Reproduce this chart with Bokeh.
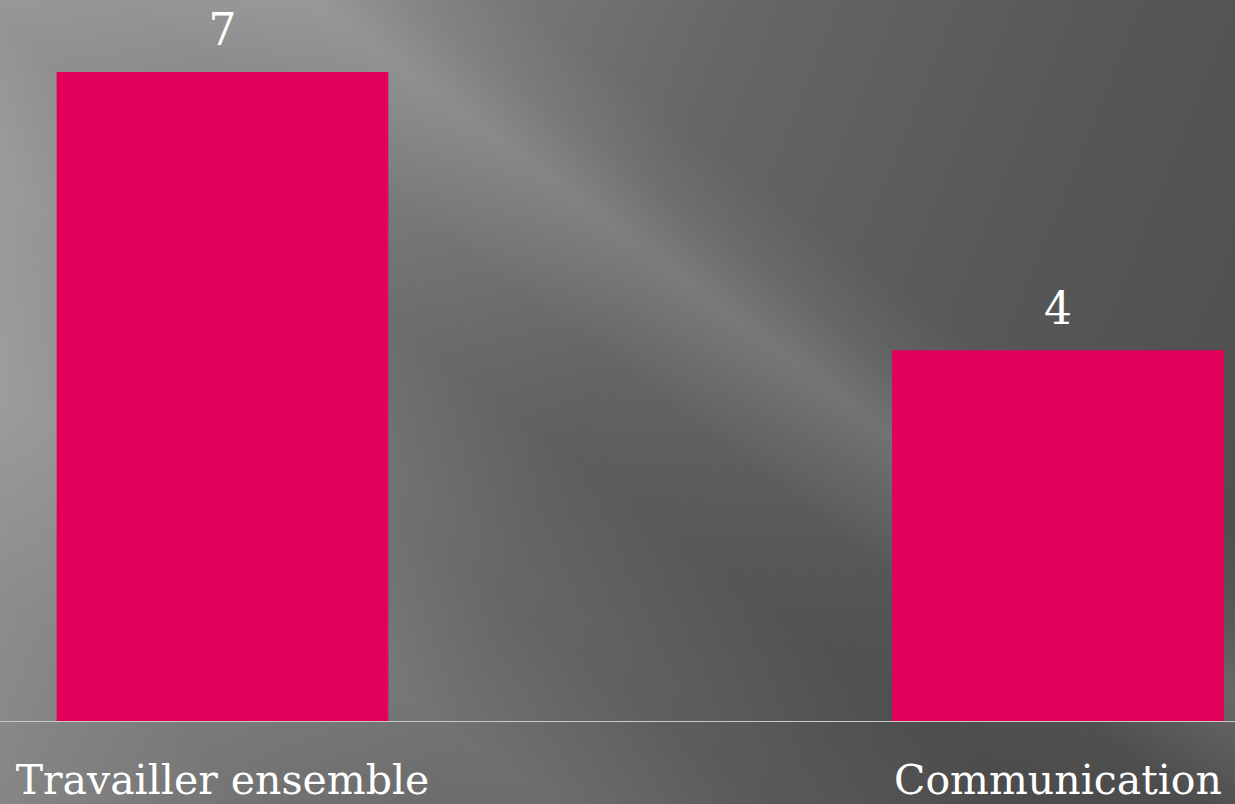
from bokeh.plotting import figure
from bokeh.models import Range1d, FixedTicker, ColumnDataSource
from bokeh.core.properties import value
from bokeh.embed import file_html
from bokeh.resources import INLINE

categories = ["Travailler ensemble", "Communication"]
values = [7, 4]
positions = [0.5, 1.5]

src = ColumnDataSource(dict(x=positions, top=values, label=[str(v) for v in values]))

p = figure(frame_width=1235, frame_height=721, output_backend="svg", toolbar_location=None,
           x_range=Range1d(0.2343, 1.7125), y_range=Range1d(0, 7.77),
           min_border_left=0, min_border_right=0, min_border_top=0, min_border_bottom=0)
p.background_fill_alpha = 0
p.border_fill_alpha = 0
p.outline_line_color = None
p.grid.visible = False
p.yaxis.visible = False
p.styles = {"background": (
    "linear-gradient(37deg, rgba(255,255,255,0) 52%, rgba(255,255,255,0.15) 60%, rgba(255,255,255,0.06) 64%, rgba(255,255,255,0) 69%),"
    "linear-gradient(37deg, rgba(255,255,255,0) 36%, rgba(0,0,0,0.08) 45%, rgba(255,255,255,0) 53%),"
    "linear-gradient(37deg, rgba(255,255,255,0) 12%, rgba(255,255,255,0.08) 24%, rgba(255,255,255,0) 34%),"
    "linear-gradient(112deg, #a2a2a2 0%, #848484 22%, #666666 48%, #575757 72%, #4c4c4c 100%)")}

p.vbar(x="x", top="top", bottom=0, width=0.397, source=src, fill_color="#E3005A", line_color=None)
p.text(x="x", y="top", text="label", source=src, y_offset=-43, text_align="center",
       text_baseline="alphabetic", text_color="white", text_font=value("DejaVu Serif"),
       text_font_size="44px")

ax = p.xaxis[0]
ax.ticker = FixedTicker(ticks=positions)
ax.major_label_overrides = {pos: cat for pos, cat in zip(positions, categories)}
ax.axis_line_color = "#c8c8c8"
ax.axis_line_width = 1
ax.major_tick_line_color = None
ax.minor_tick_line_color = None
ax.major_label_text_color = "white"
ax.major_label_text_font = "DejaVu Serif"
ax.major_label_text_font_size = "41px"
ax.major_label_standoff = 28

open("out.html", "w").write(file_html(p, INLINE))
